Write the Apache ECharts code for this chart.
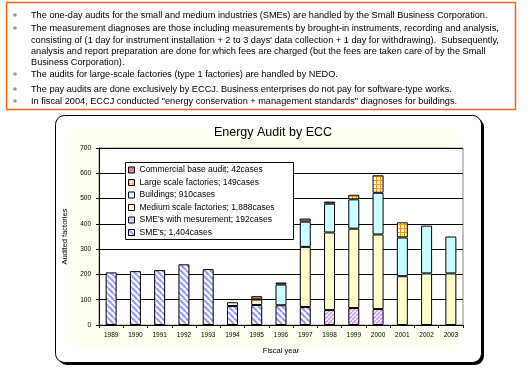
<!DOCTYPE html>
<html>
<head>
<meta charset="utf-8">
<script src="https://cdn.jsdelivr.net/npm/echarts@6/dist/echarts.min.js"></script>
<style>
html,body{margin:0;padding:0;background:#fff;}
#chart{width:530px;height:372px;}
</style>
</head>
<body>
<div id="chart"></div>
<script>
// ---- data ----
const years = ['1989','1990','1991','1992','1993','1994','1995','1996','1997','1998','1999','2000','2001','2002','2003'];
const smes        = [208,213,217,240,221,75,79,78,71,null,null,null,null,null,null];
const smesMeasure = [null,null,null,null,null,null,null,null,null,59,67,63,null,null,null];
const mediumScale = [null,null,null,null,null,15,22,null,238,307,314,295,193,204,204];
const buildings   = [null,null,null,null,null,null,null,82,100,114,116,165,153,189,146];
const largeScale  = [null,null,null,null,null,null,null,null,null,null,18,69,60,null,null];
const commercial  = [null,null,null,null,null,null,13,8,12,8,null,null,null,null,null];
const seriesNames = [
  "SME's; 1,404cases",
  "SME's with mesurement; 192cases",
  "Medium scale factories; 1,888cases",
  "Buildings; 910cases",
  "Large scale factories; 149cases",
  "Commercial base audit; 42cases"
];
const yTicks = [0,100,200,300,400,500,600,700];
const titleText = 'Energy Audit by ECC';
const yName = 'Audited factories';
const xName = 'Fiscal year';
const noteLines = [
  {b:true,  t:'The one-day audits for the small and medium industries (SMEs) are handled by the Small Business Corporation.'},
  {b:true,  t:'The measurement diagnoses are those including measurements by brought-in instruments, recording and analysis,'},
  {b:false, t:"consisting of (1 day for instrument installation + 2 to 3 days' data collection + 1 day for withdrawing).  Subsequently,"},
  {b:false, t:'analysis and report preparation are done for which fees are charged (but the fees are taken care of by the Small'},
  {b:false, t:'Business Corporation).'},
  {b:true,  t:'The audits for large-scale factories (type 1 factories) are handled by NEDO.'},
  {b:true,  t:'The pay audits are done exclusively by ECCJ. Business enterprises do not pay for software-type works.'},
  {b:true,  t:'In fiscal 2004, ECCJ conducted "energy conservation + management standards" diagnoses for buildings.'}
];
const noteY = [15, 28, 40, 51, 62, 74, 89, 101];

// ---- patterns ----
function stripe(bg, fg, size, lw, back) {
  const c = document.createElement('canvas');
  c.width = size; c.height = size;
  const g = c.getContext('2d');
  g.fillStyle = bg; g.fillRect(0,0,size,size);
  g.strokeStyle = fg; g.lineWidth = lw;
  for (let k = -1; k <= 1; k++) {
    g.beginPath();
    if (back) { g.moveTo(k*size, 0); g.lineTo(k*size+size, size); }
    else { g.moveTo(k*size, size); g.lineTo(k*size+size, 0); }
    g.stroke();
  }
  return c;
}
function gridPat(bg, fg, size) {
  const c = document.createElement('canvas');
  c.width = size; c.height = size;
  const g = c.getContext('2d');
  g.fillStyle = bg; g.fillRect(0,0,size,size);
  g.fillStyle = fg;
  g.fillRect(0,0,size,1);
  g.fillRect(0,0,1,size);
  return c;
}
const fills = [
  {image: stripe('#ffffff', '#9999ff', 6, 2.2, true), repeat:'repeat'},
  {image: stripe('#ffffff', '#cc99ff', 4, 1.6, false), repeat:'repeat'},
  '#ffffcc',
  '#ccffff',
  {image: gridPat('#ffffff', '#ff9900', 4), repeat:'repeat'},
  '#ff8080'
];
const dataSets = [smes, smesMeasure, mediumScale, buildings, largeScale, commercial];

const FONT = '"Liberation Sans", Arial, sans-serif';

const graphics = [];
// notes box
graphics.push({type:'rect', z:-5, shape:{x:6.5, y:2.5, width:509, height:107}, style:{fill:'#fff', stroke:'#ff6600', lineWidth:1.5}});
noteLines.forEach((l,i) => {
  if (l.b) graphics.push({type:'circle', z:-4, shape:{cx:15, cy:noteY[i], r:1.8}, style:{fill:'#999'}});
  graphics.push({type:'text', z:-4, style:{text:l.t, x:31, y:noteY[i], font:'9.2px ' + FONT, fill:'#000', verticalAlign:'middle'}});
});
// chart frame with shadow
graphics.push({type:'rect', z:-5, shape:{x:58, y:118, width:426, height:247, r:9}, style:{fill:'#000'}});
graphics.push({type:'rect', z:-5, shape:{x:55.5, y:115.5, width:426, height:247, r:9}, style:{fill:'#fff', stroke:'#000', lineWidth:1}});
// cream glow
graphics.push({type:'rect', z:-4, shape:{x:72, y:131, width:384, height:216, r:12}, style:{fill:'#fffff0', shadowBlur:10, shadowColor:'#fffff0'}});
// legend box
graphics.push({type:'rect', z:1, shape:{x:125.5, y:162.5, width:168, height:77}, style:{fill:'#fff', stroke:'#000', lineWidth:1}});

const chart = echarts.init(document.getElementById('chart'), null, {renderer:'canvas'});
chart.setOption({
  animation:false,
  title:{text:titleText, left:268, top:121, textAlign:'center',
    textStyle:{fontFamily:FONT, fontSize:12.5, fontWeight:'normal', color:'#000'}},
  legend:{
    data:[seriesNames[5], seriesNames[4], seriesNames[3], seriesNames[2], seriesNames[1], seriesNames[0]],
    orient:'vertical', left:126, top:164, z:5, icon:'rect',
    itemWidth:6, itemHeight:6, itemGap:2.5, padding:[1,2,1,2],
    itemStyle:{borderColor:'#000', borderWidth:1},
    textStyle:{fontFamily:FONT, fontSize:8.5, color:'#000', lineHeight:10},
    selectedMode:false
  },
  grid:{left:99, right:67, top:148, bottom:47, show:true, backgroundColor:'#fff', borderColor:'#888', borderWidth:1},
  xAxis:{
    type:'category', data:years,
    name:xName, nameLocation:'middle', nameGap:22,
    nameTextStyle:{fontFamily:FONT, fontSize:7.5, color:'#000'},
    axisLine:{lineStyle:{color:'#000', width:1}},
    axisTick:{show:true, length:3, lineStyle:{color:'#000'}},
    axisLabel:{fontFamily:FONT, fontSize:6.5, color:'#000', margin:7, interval:0},
    splitLine:{show:false}
  },
  yAxis:{
    type:'value', min:yTicks[0], max:yTicks[yTicks.length-1], interval:100,
    name:yName, nameLocation:'middle', nameGap:26,
    nameTextStyle:{fontFamily:FONT, fontSize:7.5, color:'#000'},
    axisLine:{show:true, lineStyle:{color:'#000', width:1}},
    axisTick:{show:true, length:3, lineStyle:{color:'#000'}},
    axisLabel:{fontFamily:FONT, fontSize:6.5, color:'#000', margin:8},
    splitLine:{show:true, lineStyle:{color:'#000', width:1}}
  },
  series: dataSets.map((d,i) => ({
    name: seriesNames[i], type:'bar', stack:'total', data:d,
    barWidth:11,
    itemStyle:{color:fills[i], borderColor:'#000', borderWidth:1}
  })),
  graphic: graphics
});
</script>
</body>
</html>
